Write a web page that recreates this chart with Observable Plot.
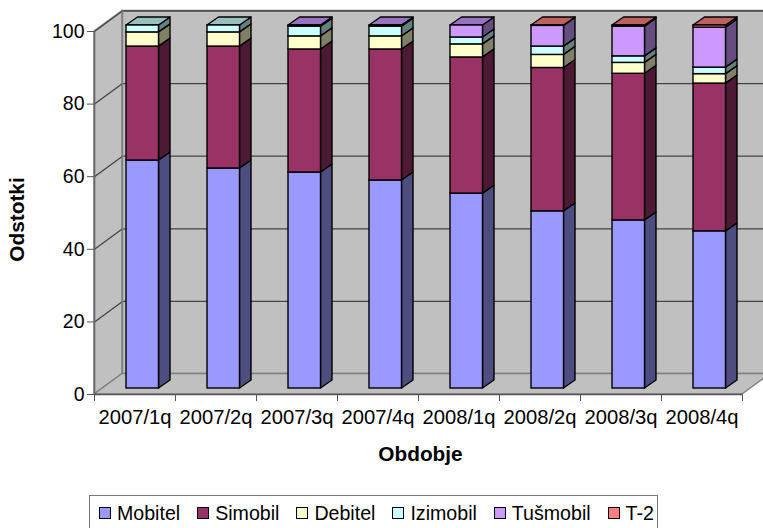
<!DOCTYPE html>
<html><head><meta charset="utf-8">
<script src="https://cdn.jsdelivr.net/npm/d3@7"></script>
<script src="https://cdn.jsdelivr.net/npm/@observablehq/plot@0.6"></script>
<style>
html,body{margin:0;padding:0;background:#fff;overflow:hidden;width:763px;height:528px}
body{font-family:"Liberation Sans",Arial,sans-serif;position:relative}
#legend{position:absolute;left:89px;top:495px;height:40px;box-sizing:border-box;border:1.5px solid #777;background:#fff;display:flex;align-items:flex-start;padding:6px 0 0 9px;gap:17px;font-size:19.6px;line-height:22px;color:#000;white-space:nowrap;padding-right:3px}
#legend .item{display:flex;align-items:center;gap:6px}
#legend .sw{width:10px;height:10px;border:1.3px solid #000;display:inline-block}
</style></head><body>
<div id="chart"></div>
<div id="legend"></div>
<script>
const quarters = ["2007/1q","2007/2q","2007/3q","2007/4q","2008/1q","2008/2q","2008/3q","2008/4q"];
const names = ["Mobitel","Simobil","Debitel","Izimobil","Tušmobil","T-2"];
const mobitel  = [62.8,60.6,59.5,57.3,53.7,48.8,46.3,43.3];
const simobil  = [31.4,33.6,33.9,36.1,37.5,39.5,40.4,40.7];
const debitel  = [3.9,3.9,3.6,3.6,3.6,3.6,3.0,2.6];
const izimobil = [1.9,1.9,2.7,2.7,1.9,2.3,1.8,1.8];
const tusmobil = [0,0,0.3,0.3,3.3,5.7,8.2,11.0];
const t2       = [0,0,0,0,0,0.1,0.3,0.6];
const yTicks = [0,20,40,60,80,100];
const fronts = ["#9999ff","#993366","#ffffcc","#ccffff","#cc99ff","#ff8080"];
const sides  = ["#4d4d80","#4d1a33","#808066","#668080","#664d80","#804040"];
const tops   = ["#7373bf","#732650","#bfbf99","#99bfbf","#9973bf","#bf6060"];

const values = [mobitel,simobil,debitel,izimobil,tusmobil,t2];
// depth of the 3-D box and of the bars, in data units
const wallDX = 28/81, wallDY = 20.5/3.63;
const barX = 32/81, barW = 32.5/81, barDX = 11.5/81, barDY = 8/3.63, baseDY = 6/3.63;

const segs = [];
quarters.forEach((q,i)=>{
  let acc = 0;
  values.forEach((v,s)=>{
    if (v[i] > 0) segs.push({i,s,x1:i+barX,x2:i+barX+barW,y1:acc+baseDY,y2:acc+v[i]+baseDY});
    acc += v[i];
  });
});
const topSeg = quarters.map((q,i)=>segs.filter(d=>d.i===i).at(-1));
const sideRows = segs.flatMap(d=>[
  {i:d.i,s:d.s,x:d.x2,y1:d.y1,y2:d.y2},
  {i:d.i,s:d.s,x:d.x2+barDX,y1:d.y1+barDY,y2:d.y2+barDY}]);
const topRows = topSeg.flatMap(d=>[
  {i:d.i,s:d.s,y:d.y2,x1:d.x1,x2:d.x2},
  {i:d.i,s:d.s,y:d.y2+barDY,x1:d.x1+barDX,x2:d.x2+barDX}]);

const wall = {fill:"#c0c0c0",stroke:"#808080",strokeWidth:1.5};
const gridTicks = yTicks.filter(v=>v>0);
const plot = Plot.plot({
  width:763,height:495,
  marginLeft:94,marginRight:21,marginTop:31,marginBottom:101,
  x:{domain:[0,8]},
  y:{domain:[0,100]},
  marks:[
    Plot.rect([0],{x1:()=>wallDX,x2:()=>8+wallDX,y1:()=>wallDY,y2:()=>100+wallDY,...wall}),
    Plot.areaY([0,1],{x:d=>d*wallDX,y1:d=>d*wallDY,y2:d=>100+d*wallDY,...wall}),
    Plot.areaX([0,1],{y:d=>d*wallDY,x1:d=>d*wallDX,x2:d=>8+d*wallDX,...wall}),
    Plot.ruleY(gridTicks,{y:d=>d+wallDY,x1:wallDX,x2:8+wallDX,stroke:"#444",strokeWidth:1.3}),
    Plot.link(gridTicks,{x1:0,x2:wallDX,y1:d=>d,y2:d=>d+wallDY,stroke:"#444",strokeWidth:1.3}),
    Plot.ruleX([wallDX],{y1:wallDY,y2:100+wallDY,stroke:"#808080",strokeWidth:1.5}),
    ...names.flatMap((n,s)=>[
      Plot.areaY(sideRows.filter(d=>d.s===s),{x:"x",y1:"y1",y2:"y2",z:"i",fill:sides[s],stroke:"#000",strokeWidth:1.4}),
      Plot.areaX(topRows.filter(d=>d.s===s),{y:"y",x1:"x1",x2:"x2",z:"i",fill:tops[s],stroke:"#000",strokeWidth:1.4}),
      Plot.rect(segs.filter(d=>d.s===s),{x1:"x1",x2:"x2",y1:"y1",y2:"y2",fill:fronts[s],stroke:"#000",strokeWidth:1.4,inset:0})
    ]),
    Plot.ruleY([0],{x1:0,x2:8,stroke:"#555",strokeWidth:1.6}),
    Plot.ruleX([0],{y1:0,y2:100,stroke:"#666",strokeWidth:1.6}),
    Plot.axisY({ticks:yTicks,tickSize:7,tickPadding:3,label:null,fontSize:19.5,stroke:"#555",color:"#000",fontFamily:"Liberation Sans"}),
    Plot.axisX({ticks:d3.range(9),tickSize:7,tickFormat:()=>"",label:null,stroke:"#555"}),
    Plot.axisX({ticks:quarters.map((q,i)=>i+0.5),tickSize:0,tickPadding:15,tickFormat:d=>quarters[Math.floor(d)],label:null,fontSize:20.2,color:"#000",fontFamily:"Liberation Sans"}),
    Plot.text(["Obdobje"],{frameAnchor:"bottom",dy:66,dx:2,fontSize:20.8,fontWeight:"bold",fill:"#000",fontFamily:"Liberation Sans"}),
    Plot.text(["Odstotki"],{frameAnchor:"left",dx:-77,dy:6.5,rotate:-90,fontSize:20.8,fontWeight:"bold",fill:"#000",fontFamily:"Liberation Sans",textAnchor:"middle"})
  ]
});
plot.style.fontFamily = '"Liberation Sans"';
document.getElementById("chart").append(plot);
const legend = document.getElementById("legend");
names.forEach((n,s)=>{
  const it = document.createElement("span"); it.className="item";
  const sw = document.createElement("span"); sw.className="sw"; sw.style.background=fronts[s];
  const t = document.createElement("span"); t.textContent=n;
  it.append(sw,t); legend.append(it);
});
</script></body></html>
